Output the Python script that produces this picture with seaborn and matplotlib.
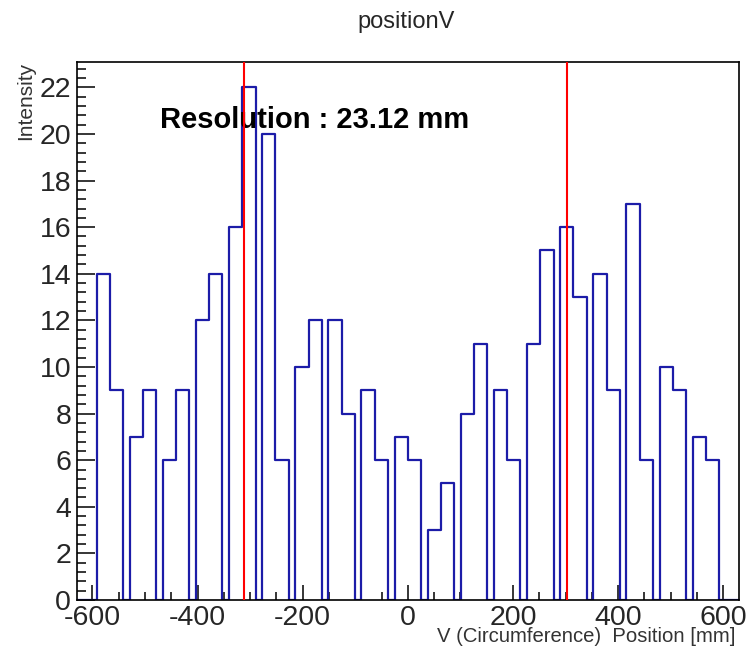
import numpy as np
import pandas as pd
import seaborn as sns
import matplotlib as mpl
import matplotlib.pyplot as plt
from matplotlib.ticker import MultipleLocator

# counts per strip pair (each strip is 2 bins wide,
# one empty bin between neighbouring pairs)
strip_a = [14, 7, 6, 12, 16, 20, 10, 12, 9, 7, 3, 8, 9, 11, 16, 14, 17, 10, 7]
strip_b = [9, 9, 9, 14, 22, 6, 12, 8, 6, 6, 5, 11, 6, 15, 13, 9, 6, 9, 6]
hist_range = (-630, 630)
n_bins = 100
empty_edge_bins = 3
red_lines = [-311, 303]
resolution_text = "Resolution : 23.12 mm"

if __name__ == '__main__':
    sns.set_style("ticks")
    mpl.rcParams['font.family'] = ['Liberation Sans', 'DejaVu Sans']
    mpl.rcParams['axes.unicode_minus'] = False

    # build bin contents
    counts = [0] * empty_edge_bins
    for i, (a, b) in enumerate(zip(strip_a, strip_b)):
        counts += [a, a, b, b]
        if i < len(strip_a) - 1:
            counts.append(0)
    counts += [0] * (n_bins - len(counts))
    edges = np.linspace(hist_range[0], hist_range[1], n_bins + 1)
    df = pd.DataFrame({"position": 0.5 * (edges[:-1] + edges[1:]),
                       "counts": np.array(counts, dtype=float)})

    fig = plt.figure(figsize=(7.54, 6.5), dpi=100)
    ax = fig.add_axes([76.7 / 754, 1 - 600 / 650, (739 - 76.7) / 754, (600 - 61.7) / 650])

    sns.histplot(data=df, x="position", weights="counts", bins=list(edges), element="step",
                 fill=False, color="#1c1ca8", linewidth=1.6, ax=ax)

    for xv in red_lines:
        ax.axvline(xv, color="red", linewidth=1.5, zorder=5)

    ax.text(-471, 20.27, resolution_text, fontsize=21, fontweight="bold",
            va="baseline", ha="left", color="black", zorder=4)

    ax.set_xlim(*hist_range)
    ax.set_ylim(0, 23.1)

    ax.xaxis.set_major_locator(MultipleLocator(200))
    ax.xaxis.set_minor_locator(MultipleLocator(50))
    ax.yaxis.set_major_locator(MultipleLocator(2))
    ax.yaxis.set_minor_locator(MultipleLocator(0.4))
    ax.tick_params(axis="both", which="both", direction="in", width=1.1, color="black",
                   top=False, right=False)
    ax.tick_params(axis="x", which="major", length=10.8, labelsize=20.5, pad=3.6)
    ax.tick_params(axis="x", which="minor", length=5.8)
    ax.tick_params(axis="y", which="major", length=13, labelsize=20.5, pad=4)
    ax.tick_params(axis="y", which="minor", length=6.5)

    for side in ["left", "right", "top", "bottom"]:
        ax.spines[side].set_visible(True)
        ax.spines[side].set_linewidth(1.2)
        ax.spines[side].set_color("black")

    ax.set_ylabel("Intensity", fontsize=15, loc="top", color="#333333")
    ax.yaxis.set_label_coords(-0.063, 1.0)
    ax.set_xlabel("V (Circumference)  Position [mm]", fontsize=14.6, loc="right", color="#333333")
    ax.xaxis.set_label_coords(0.994, -0.05)

    fig.text(406 / 754, 1 - 22 / 650, "positionV", ha="center", va="center", fontsize=17)

    plt.savefig("out.png", dpi=100)
